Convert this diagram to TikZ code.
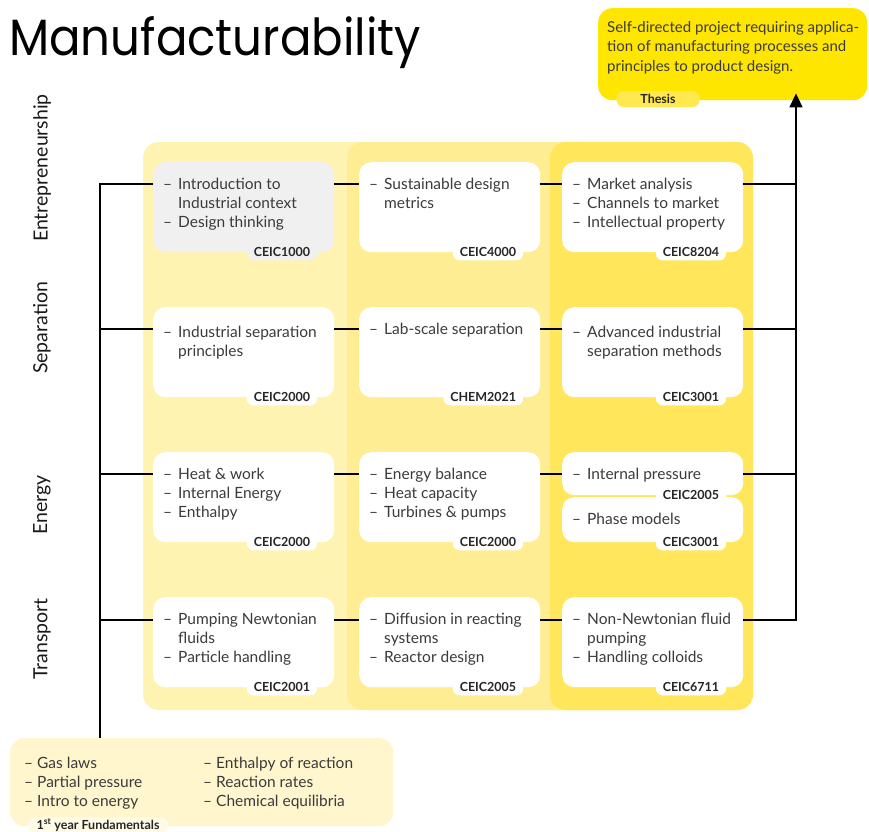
\documentclass[tikz,border=0pt]{standalone}
\usepackage{fontspec}
\setmainfont{Lato}
\newfontfamily\titlefont{Poppins}
\usetikzlibrary{positioning}
\usetikzlibrary{arrows.meta}

\definecolor{panelA}{HTML}{FFF3B2}
\definecolor{panelB}{HTML}{FFED94}
\definecolor{panelC}{HTML}{FFE65A}
\definecolor{thesisfill}{HTML}{FFE600}
\definecolor{thesistab}{HTML}{FFE850}
\definecolor{fundfill}{HTML}{FFF6CE}
\definecolor{fundtab}{HTML}{FFFBE6}
\definecolor{greycard}{HTML}{F0F0F0}
\definecolor{ink}{HTML}{3B3B3B}

\newcommand{\itm}[1][15pt]{\makebox[#1][l]{--}}
\newcommand{\cnt}{\hspace*{15pt}}

\tikzset{
  card/.style={fill=white, rounded corners=12pt, anchor=north west,
    minimum width=181pt, minimum height=90pt, inner sep=0pt},
  cardtext/.style={anchor=north west, align=left, inner sep=0pt, text=ink,
    font=\fontsize{15.5}{19}\selectfont},
  codetab/.style={fill=white, rounded corners=7pt, anchor=east,
    minimum height=16pt, inner xsep=7pt, inner ysep=0pt, text=black!85,
    font=\fontsize{12.5}{13}\selectfont\bfseries},
  link/.style={line width=1.6pt},
  rowlabel/.style={rotate=90, font=\fontsize{19.5}{21}\selectfont, text=black!90}
}

\begin{document}
\begin{tikzpicture}[x=1pt, y=-1pt]
  \useasboundingbox (0,0) rectangle (869,831);

  \node[anchor=base west, inner sep=0pt, font=\titlefont\fontsize{51}{51}\selectfont]
    (title) at (9,55) {\scalebox{0.915}[1]{Manufacturability}};

  % column panels
  \foreach \x/\c in {143/panelA, 347/panelB, 550/panelC}
    \fill[\c, rounded corners=16pt] (\x,142) rectangle (753,710);

  % cards
  \node[card, fill=greycard] (c11) at (153,162) {};
  \foreach \n/\x/\y in {c12/359/162, c13/562/162,
                        c21/153/307, c22/359/307, c23/562/307,
                        c31/153/452, c32/359/452,
                        c41/153/597, c42/359/597, c43/562/597}
    \node[card] (\n) at (\x,\y) {};
  \node[card, minimum height=43pt] (c33) at (562,452) {};
  \node[card, minimum height=45pt] (c33b) at (562,497) {};

  \node[cardtext] (t11) at ([shift={(10,16)}]c11.north west)
    {\itm Introduction to\\\cnt Industrial context\\\itm Design thinking};
  \node[cardtext] (t12) at ([shift={(10,16)}]c12.north west)
    {\itm Sustainable design\\\cnt metrics};
  \node[cardtext] (t13) at ([shift={(10,16)}]c13.north west)
    {\itm Market analysis\\\itm Channels to market\\\itm Intellectual property};
  \node[cardtext] (t21) at ([shift={(10,19)}]c21.north west)
    {\itm Industrial separation\\\cnt principles};
  \node[cardtext] (t22) at ([shift={(10,16)}]c22.north west)
    {\itm Lab-scale separation};
  \node[cardtext] (t23) at ([shift={(10,19)}]c23.north west)
    {\itm Advanced industrial\\\cnt separation methods};
  \node[cardtext] (t31) at ([shift={(10,16)}]c31.north west)
    {\itm Heat \& work\\\itm Internal Energy\\\itm Enthalpy};
  \node[cardtext] (t32) at ([shift={(10,16)}]c32.north west)
    {\itm Energy balance\\\itm Heat capacity\\\itm Turbines \& pumps};
  \node[cardtext] (t33) at ([shift={(10,16)}]c33.north west)
    {\itm Internal pressure};
  \node[cardtext] (t33b) at ([shift={(10,16)}]c33b.north west)
    {\itm Phase models};
  \node[cardtext] (t41) at ([shift={(10,16)}]c41.north west)
    {\itm Pumping Newtonian\\\cnt fluids\\\itm Particle handling};
  \node[cardtext] (t42) at ([shift={(10,16)}]c42.north west)
    {\itm Diffusion in reacting\\\cnt systems\\\itm Reactor design};
  \node[cardtext] (t43) at ([shift={(10,16)}]c43.north west)
    {\itm Non-Newtonian fluid\\\cnt pumping\\\itm Handling colloids};

  % course codes
  \node[codetab, fill=greycard] (k11) at ([xshift=-17pt]c11.south east) {CEIC1000};
  \foreach \n/\code in {12/CEIC4000, 13/CEIC8204, 21/CEIC2000, 22/CHEM2021,
                        23/CEIC3001, 31/CEIC2000, 32/CEIC2000, 33/CEIC2005,
                        33b/CEIC3001, 41/CEIC2001, 42/CEIC2005, 43/CEIC6711}
    \node[codetab] (k\n) at ([xshift=-17pt]c\n.south east) {\code};

  % thesis
  \node[anchor=north west, fill=thesisfill, rounded corners=14pt, inner sep=0pt,
    minimum width=269pt, minimum height=92pt] (thesis) at (598,8) {};
  \node[cardtext, font=\fontsize{15}{19.5}\selectfont] (thesistext) at (607,21)
    {Self-directed project requiring applica-\\tion of manufacturing processes and\\principles to product design.};
  \node[codetab, fill=thesistab, anchor=center, minimum width=83pt]
    (thesistab) at (658,99) {Thesis};

  % fundamentals
  \node[anchor=north west, fill=fundfill, rounded corners=14pt, inner sep=0pt,
    minimum width=383pt, minimum height=88pt] (fund) at (10,738) {};
  \node[cardtext] (fundleft) at (24,757)
    {\itm[13pt]Gas laws\\\itm[13pt]Partial pressure\\\itm[13pt]Intro to energy};
  \node[cardtext] (fundright) at (203,757)
    {\itm[13pt]Enthalpy of reaction\\\itm[13pt]Reaction rates\\\itm[13pt]Chemical equilibria};
  \node[codetab, fill=fundtab, anchor=center, minimum width=140pt]
    (fundtab) at (98,825) {1\textsuperscript{st} year Fundamentals};

  % row labels
  \foreach \t/\y in {Entrepreneurship/168, Separation/328, Energy/505, Transport/639}
    \node[rowlabel] (lab\t) at (42,\y) {\t};

  % connectors
  \coordinate (row1) at (100,184);
  \coordinate (row2) at (100,329);
  \coordinate (row3) at (100,474);
  \coordinate (row4) at (100,620);
  \coordinate (rail) at (796,0);

  \draw[link] (c11.west |- row1) -- (row1) -- (fund.north -| row1);
  \foreach \r in {2,3,4}
    \draw[link] (row\r) -- (c\r1.west |- row\r);
  \foreach \r in {1,...,4}
  {
    \draw[link] (c\r1.east |- row\r) -- (c\r2.west |- row\r);
    \draw[link] (c\r2.east |- row\r) -- (c\r3.west |- row\r);
  }
  \foreach \r in {1,2,3}
    \draw[link] (c\r3.east |- row\r) -- (rail |- row\r);
  \draw[link, -{Triangle[length=14pt, width=13pt]}, shorten >=-7pt]
    (c43.east |- row4) -- (rail |- row4) -- (thesis.south -| rail);
\end{tikzpicture}
\end{document}
